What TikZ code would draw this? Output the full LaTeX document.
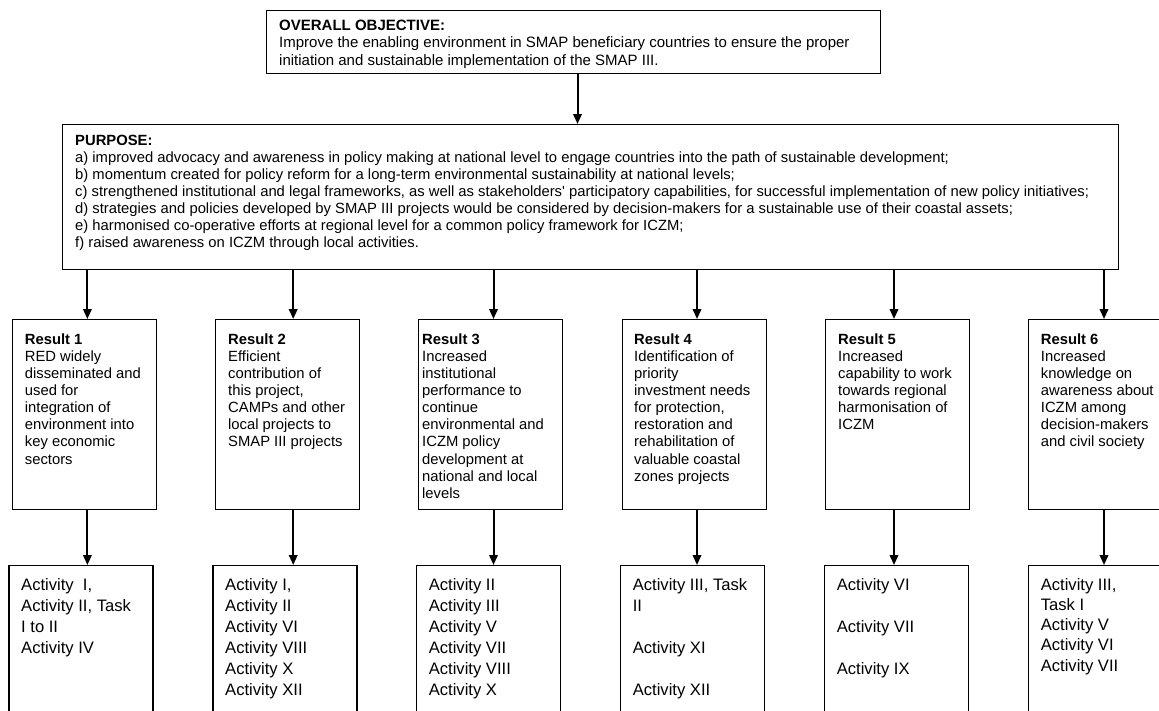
\documentclass[tikz,border=0pt]{standalone}
\usepackage{fontspec}
\setmainfont{Liberation Sans}[Ligatures=TeXOff]
\usetikzlibrary{arrows.meta}
\begin{document}
\begin{tikzpicture}[x=1pt,y=-1pt,
  box/.style={draw, line width=1.2pt, inner sep=0pt, anchor=north west},
  rbox/.style={box, minimum width=144pt, minimum height=190pt},
  abox/.style={box, minimum width=144pt, minimum height=220pt},
  txt/.style={inner sep=0pt, anchor=base west},
  arr/.style={line width=2pt, -{Triangle[length=10pt,width=8.5pt]}},
]
\useasboundingbox (0,0) rectangle (1159,710);
\fill[white] (0,0) rectangle (1159,710);
\clip (0,0) rectangle (1159,710);

% column coordinates for connectors
\coordinate (c0) at (577.5,0);
\coordinate (c1) at (87.4,0);
\coordinate (c2) at (293.2,0);
\coordinate (c3) at (493.5,0);
\coordinate (c4) at (697,0);
\coordinate (c5) at (894,0);
\coordinate (c6) at (1104,0);

% overall objective
\node[box, minimum width=614pt, minimum height=63pt] (obj) at (266,10) {};
\node[txt] (objt) at ([xshift=13pt,yshift=-20pt]obj.north west)
 {\parbox[t]{600pt}{\raggedright\fontsize{15}{17.5}\selectfont
 \textbf{OVERALL OBJECTIVE:}\\
 Improve the enabling environment in SMAP beneficiary countries to ensure the proper\\
 initiation and sustainable implementation of the SMAP III.}};

% purpose
\node[box, minimum width=1056pt, minimum height=145pt] (purp) at (62,124) {};
\node[txt] (purpt) at ([xshift=13pt,yshift=-21pt]purp.north west)
 {\parbox[t]{1040pt}{\raggedright\fontsize{14.8}{17.1}\selectfont
 \textbf{PURPOSE:}\\
 a) improved advocacy and awareness in policy making at national level to engage countries into the path of sustainable development;\\
 b) momentum created for policy reform for a long-term environmental sustainability at national levels;\\
 c) strengthened institutional and legal frameworks, as well as stakeholders' participatory capabilities, for successful implementation of new policy initiatives;\\
 d) strategies and policies developed by SMAP III projects would be considered by decision-makers for a sustainable use of their coastal assets;\\
 e) harmonised co-operative efforts at regional level for a common policy framework for ICZM;\\
 f) raised awareness on ICZM through local activities.}};

% results
\node[rbox] (r1) at (11.7,319) {};
\node[rbox] (r2) at (215,319) {};
\node[rbox] (r3) at (418,319) {};
\node[rbox] (r4) at (622,319) {};
\node[rbox] (r5) at (825,319) {};
\node[rbox] (r6) at (1028,319) {};

\newcommand{\rtext}[1]{\parbox[t]{140pt}{\raggedright\fontsize{14.8}{17.1}\selectfont #1}}
\node[txt] (r1t) at ([xshift=13pt,yshift=-25.3pt]r1.north west)
 {\rtext{\textbf{Result 1}\\RED widely\\disseminated and\\used for\\integration of\\environment into\\key economic\\sectors}};
\node[txt] (r2t) at ([xshift=13pt,yshift=-25.3pt]r2.north west)
 {\rtext{\textbf{Result 2}\\Efficient\\contribution of\\this project,\\CAMPs and other\\local projects to\\SMAP III projects}};
\node[txt] (r3t) at ([xshift=4pt,yshift=-25.3pt]r3.north west)
 {\rtext{\textbf{Result 3}\\Increased\\institutional\\performance to\\continue\\environmental and\\ICZM policy\\development at\\national and local\\levels}};
\node[txt] (r4t) at ([xshift=12pt,yshift=-25.3pt]r4.north west)
 {\rtext{\textbf{Result 4}\\Identification of\\priority\\investment needs\\for protection,\\restoration and\\rehabilitation of\\valuable coastal\\zones projects}};
\node[txt] (r5t) at ([xshift=13pt,yshift=-25.3pt]r5.north west)
 {\rtext{\textbf{Result 5}\\Increased\\capability to work\\towards regional\\harmonisation of\\ICZM}};
\node[txt] (r6t) at ([xshift=12.7pt,yshift=-25.3pt]r6.north west)
 {\rtext{\textbf{Result 6}\\Increased\\knowledge on\\awareness about\\ICZM among\\decision-makers\\and civil society}};

% activities
\node[abox] (a1) at (8.4,565) {};
\node[abox] (a2) at (212.4,565) {};
\node[abox] (a3) at (416,565) {};
\node[abox] (a4) at (620,565) {};
\node[abox] (a5) at (824,565) {};
\node[abox] (a6) at (1028,565) {};

\newcommand{\atext}[1]{\parbox[t]{140pt}{\raggedright\fontsize{16.6}{21}\selectfont #1}}
\node[txt] (a1t) at ([xshift=12.6pt,yshift=-25pt]a1.north west)
 {\atext{Activity\ \ I,\\Activity II, Task\\I to II\\Activity IV}};
\node[txt] (a2t) at ([xshift=12.6pt,yshift=-25pt]a2.north west)
 {\atext{Activity I,\\Activity II\\Activity VI\\Activity VIII\\Activity X\\Activity XII}};
\node[txt] (a3t) at ([xshift=12.6pt,yshift=-25pt]a3.north west)
 {\atext{Activity II\\Activity III\\Activity V\\Activity VII\\Activity VIII\\Activity X}};
\node[txt] (a4t) at ([xshift=12.6pt,yshift=-25pt]a4.north west)
 {\atext{Activity III, Task\\II\\[21pt]Activity XI\\[21pt]Activity XII}};
\node[txt] (a5t) at ([xshift=12.6pt,yshift=-25pt]a5.north west)
 {\atext{Activity VI\\[21pt]Activity VII\\[21pt]Activity IX}};
\node[txt] (a6t) at ([xshift=12.6pt,yshift=-25pt]a6.north west)
 {\atext{\fontsize{16.6}{20.3}\selectfont Activity III,\\Task I\\Activity V\\Activity VI\\Activity VII}};

% connectors
\draw[arr] (obj.south -| c0) -- (purp.north -| c0);
\foreach \i in {1,...,6}{
  \draw[arr] (purp.south -| c\i) -- (r\i.north -| c\i);
  \draw[arr] (r\i.south -| c\i) -- (a\i.north -| c\i);
}
\end{tikzpicture}
\end{document}
